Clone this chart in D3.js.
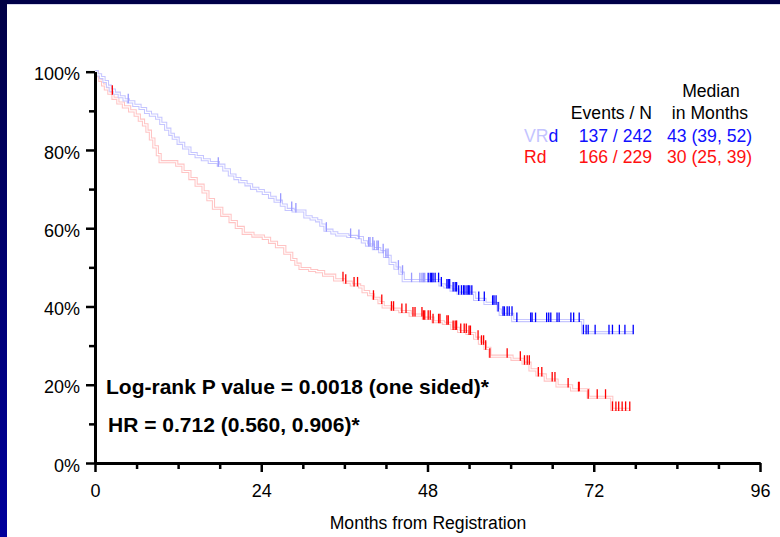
<!DOCTYPE html>
<html><head><meta charset="utf-8">
<script src="https://cdn.jsdelivr.net/npm/d3@7"></script>
<style>html,body{margin:0;padding:0;background:#fff;}svg{display:block;}</style>
</head><body>
<svg id="c" width="780" height="537"></svg>
<script>
// ---- data ----
const groups = ["VRd", "Rd"];
const eventsN = ["137 / 242", "166 / 229"];
const medians = ["43 (39, 52)", "30 (25, 39)"];
const xTicks = [0, 24, 48, 72, 96];
const yTicks = [0, 20, 40, 60, 80, 100];
// step drops: [month, survival % after the drop]
const vrdSteps = [[0,100],[0.3,99.2],[0.8,98.5],[1.3,97.5],[1.8,96.3],[2.2,95.3],[2.8,94.5],[3.5,93.6],[4.2,92.8],[4.8,92.3],[5.6,91.4],[6.5,90.6],[7.3,89.6],[8.0,88.9],[8.9,88.1],[9.5,86.8],[10.2,85.3],[10.8,84.0],[11.3,83.0],[12.0,81.7],[12.8,80.5],[13.7,79.1],[14.6,78.3],[15.5,77.5],[16.5,76.8],[17.8,76.1],[18.6,74.9],[19.4,73.6],[20.2,72.7],[20.9,71.9],[21.8,71.1],[22.6,70.2],[23.5,69.6],[24.3,68.9],[25.2,67.9],[26.0,66.9],[26.9,65.9],[27.6,64.8],[28.6,64.4],[30.3,62.9],[31.2,62.4],[32.0,61.9],[32.6,60.8],[33.2,59.5],[34.2,58.8],[34.9,58.3],[36.5,57.9],[37.8,57.6],[38.6,56.5],[39.2,55.7],[40.2,54.8],[41.1,54.0],[41.8,52.8],[42.6,51.0],[43.3,49.8],[44.0,48.5],[44.5,46.6],[49.8,45.5],[50.5,45.0],[51.4,44.2],[52.4,43.4],[54.8,41.8],[56.3,40.8],[58.2,39.1],[58.5,38.0],[60.3,36.4],[70.4,33.3],[77.7,33.3]];
const rdSteps = [[0,100],[0.3,99.0],[0.7,97.8],[1.1,96.6],[1.5,95.6],[2.0,94.5],[2.6,93.2],[3.3,92.0],[4.1,91.0],[5.0,90.0],[5.8,88.9],[6.4,87.6],[7.0,86.4],[7.5,84.8],[8.0,82.8],[8.5,80.8],[9.0,78.8],[9.4,77.0],[11.8,76.1],[12.7,74.5],[13.7,72.7],[14.6,71.0],[15.6,69.3],[16.3,67.3],[17.1,65.1],[18.3,63.3],[19.5,61.7],[20.4,60.2],[21.4,58.7],[22.8,58.0],[24.3,57.4],[25.2,56.4],[26.2,55.3],[27.4,53.6],[28.4,52.0],[29.0,50.8],[29.6,49.7],[31.0,49.2],[32.0,48.9],[33.0,48.0],[34.6,46.8],[36.0,46.2],[37.0,45.5],[38.2,45.0],[38.7,43.8],[39.5,43.0],[40.2,42.1],[41.0,41.0],[41.6,39.9],[42.8,39.3],[44.0,38.7],[45.5,37.8],[47.4,37.0],[48.8,36.1],[50.3,35.7],[51.5,34.4],[52.5,33.6],[53.7,33.1],[54.8,31.9],[55.5,30.6],[56.3,29.3],[57.0,27.3],[60.2,26.5],[61.8,25.5],[62.8,23.8],[63.8,22.5],[65.0,21.2],[66.7,19.7],[68.8,18.7],[71.2,16.8],[74.6,13.7],[77.2,13.7]];
// censored observations (months)
const vrdCensorLight = [4.8,17.8,26.8,28.4,29.0,33.4,36.9,38.1,39.5,39.7,40.1,40.3,40.7,40.9,41.6,42.0,42.3,43.8,44.4,45.7,46.9,47.2,47.4,47.6];
const vrdCensor = [48.1,48.4,48.6,48.8,49.1,49.6,50.0,50.8,51.0,51.2,51.7,52.0,52.2,52.5,52.9,53.2,53.4,53.7,53.9,54.1,54.4,55.4,56.2,57.4,57.6,57.9,58.2,58.9,59.1,59.5,59.8,60.2,60.9,62.9,63.1,63.6,65.2,65.5,65.8,66.7,67.0,68.7,69.1,69.9,70.5,70.9,71.2,72.2,74.2,74.7,75.7,76.5,77.7];
const rdCensor = [2.5,35.8,36.2,37.4,37.9,40.2,41.4,42.8,43.1,44.3,44.9,45.9,46.2,47.2,47.4,47.6,48.1,48.4,48.8,49.6,49.8,50.8,51.0,51.7,52.0,52.2,52.8,53.3,53.6,54.0,54.2,55.3,55.8,56.1,56.4,57.0,59.5,61.4,62.0,62.4,62.7,64.0,64.5,66.0,66.4,68.3,69.8,69.9,71.2,72.5,73.7,74.7,75.2,75.6,76.1,76.6,77.2];
const annot1 = "Log-rank P value = 0.0018 (one sided)*";
const annot2 = "HR = 0.712 (0.560, 0.906)*";
const xTitle = "Months from Registration";

// ---- drawing ----
const FONT = "'Liberation Sans', Arial, Helvetica, sans-serif";
const svg = d3.select("#c");
const defs = svg.append("defs");
const g1 = defs.append("linearGradient").attr("id","side").attr("x1",0).attr("y1",0).attr("x2",0).attr("y2",1);
g1.append("stop").attr("offset","0%").attr("stop-color","#000045");
g1.append("stop").attr("offset","100%").attr("stop-color","#00009c");
svg.append("rect").attr("x",0).attr("y",0).attr("width",780).attr("height",537).attr("fill","#fff");
svg.append("rect").attr("x",0).attr("y",0).attr("width",780).attr("height",4).attr("fill","#000048");
svg.append("rect").attr("x",0).attr("y",4).attr("width",780).attr("height",1).attr("fill","#d8d8ec");
svg.append("rect").attr("x",0).attr("y",0).attr("width",7).attr("height",537).attr("fill","url(#side)");

const x = d3.scaleLinear().domain([0,96]).range([95,760]);
const y = d3.scaleLinear().domain([0,100]).range([463,71.7]);

const line = d3.line().x(d=>x(d[0])).y(d=>y(d[1])).curve(d3.curveStepAfter);
function drawCurve(steps, col){
  svg.append("path").attr("d",line(steps)).attr("fill","none").attr("stroke",col).attr("stroke-width",3.2);
  svg.append("path").attr("d",line(steps)).attr("fill","none").attr("stroke","#fff").attr("stroke-width",1.1);
}
function valAt(steps,t){let v=steps[0][1];for(const s of steps){if(s[0]<=t)v=s[1];else break;}return v;}
drawCurve(rdSteps,"#ffc4c4");
drawCurve(vrdSteps,"#c6c6ff");
function drawCensor(times, steps, col){
  svg.append("g").selectAll("line").data(times).join("line")
    .attr("x1",d=>x(d)).attr("x2",d=>x(d))
    .attr("y1",d=>y(valAt(steps,d))-8).attr("y2",d=>y(valAt(steps,d))+1.5)
    .attr("stroke",col).attr("stroke-width",1.3);
}
drawCensor(vrdCensorLight, vrdSteps, "#9a9aff");
drawCensor(vrdCensor, vrdSteps, "#0000ff");
drawCensor(rdCensor, rdSteps, "#ff0000");

// axes
function styleAxis(g){
  g.selectAll(".domain").attr("stroke","#000").attr("stroke-width",3);
  g.selectAll(".tick line").attr("stroke","#000").attr("stroke-width",2.5);
  g.selectAll("text").attr("font-family",FONT).attr("font-size",18).attr("fill","#000");
}
const yMinor = svg.append("g").attr("transform","translate(95,0)")
  .call(d3.axisLeft(y).tickValues(d3.range(10,100,20)).tickSize(6).tickFormat("").tickSizeOuter(0));
styleAxis(yMinor);
const yAx = svg.append("g").attr("transform","translate(95,0)")
  .call(d3.axisLeft(y).tickValues(yTicks).tickSize(9).tickPadding(6).tickSizeOuter(0).tickFormat(d=>d+"%"));
styleAxis(yAx);
yAx.selectAll("text").attr("dy","0.45em");
const xMinor = svg.append("g").attr("transform","translate(0,463)")
  .call(d3.axisBottom(x).tickValues(d3.range(6,96,6).filter(v=>v%24!==0)).tickSize(6).tickFormat("").tickSizeOuter(0));
styleAxis(xMinor);
const xAx = svg.append("g").attr("transform","translate(0,463)")
  .call(d3.axisBottom(x).tickValues(xTicks).tickSize(9).tickPadding(12).tickSizeOuter(0));
styleAxis(xAx);

svg.append("text").attr("x",428).attr("y",529).attr("text-anchor","middle")
  .attr("font-family",FONT).attr("font-size",17.6).text(xTitle);

// annotations
svg.append("text").attr("x",106).attr("y",394).attr("font-family",FONT).attr("font-weight","bold")
  .attr("font-size",21).attr("fill","#000").text(annot1);
svg.append("text").attr("x",108).attr("y",432).attr("font-family",FONT).attr("font-weight","bold")
  .attr("font-size",21).attr("fill","#000").text(annot2);

// legend
const lf = 17.6;
function lt(xp,yp,txt,col,anchor){
  return svg.append("text").attr("x",xp).attr("y",yp).attr("font-family",FONT).attr("font-size",lf)
    .attr("fill",col).attr("text-anchor",anchor||"start").text(txt);
}
lt(711,97,"Median","#000","middle");
lt(710,118.5,"in Months","#000","middle");
lt(652,118.5,"Events / N","#000","end");
const vt = svg.append("text").attr("x",524).attr("y",141.7).attr("font-family",FONT).attr("font-size",lf);
vt.append("tspan").attr("fill","#c4c4ff").text(groups[0].slice(0,2));
vt.append("tspan").attr("fill","#1010ff").text(groups[0].slice(2));
lt(652,141.7,eventsN[0],"#1010ff","end");
lt(667,141.7,medians[0],"#1010ff");
lt(524,163.3,groups[1],"#ff1010");
lt(652,163.3,eventsN[1],"#ff1010","end");
lt(667,163.3,medians[1],"#ff1010");
</script>
</body></html>
